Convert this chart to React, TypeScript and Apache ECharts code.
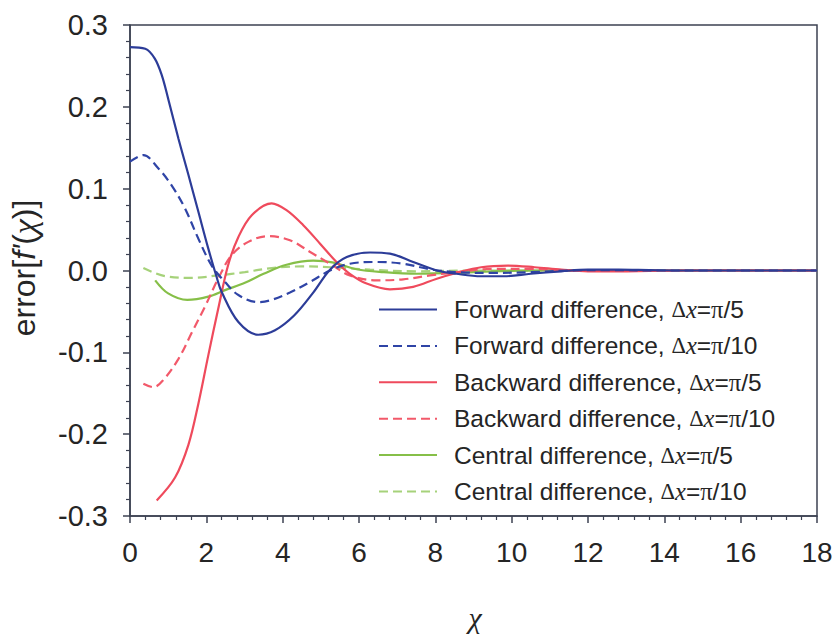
import React, { useEffect, useRef } from "react";
import * as echarts from "echarts";

// Tick labels
const xTicks = [0, 2, 4, 6, 8, 10, 12, 14, 16, 18];
const yTicks = [-0.3, -0.2, -0.1, 0.0, 0.1, 0.2, 0.3];

// Series names
const names = [
  "Forward difference, Δx=π/5",
  "Forward difference, Δx=π/10",
  "Backward difference, Δx=π/5",
  "Backward difference, Δx=π/10",
  "Central difference, Δx=π/5",
  "Central difference, Δx=π/10",
];

// Forward, Δx=π/5
const fwd5X = [0, 0.4, 0.65, 0.83, 1.0, 1.27, 1.53, 1.79, 2.05, 2.27, 2.4, 2.84, 3.36, 3.8, 4.3, 4.8, 5.24, 5.68, 6.29, 6.81, 7.42, 8.04, 8.55, 9.2, 9.8, 10.5, 11.3, 12.0, 12.8, 13.6, 14.5, 18];
const fwd5Y = [0.273, 0.271, 0.259, 0.239, 0.21, 0.161, 0.117, 0.072, 0.027, -0.008, -0.026, -0.063, -0.0785, -0.073, -0.055, -0.027, 0.001, 0.0165, 0.022, 0.0206, 0.0104, 0.0, -0.004, -0.007, -0.007, -0.004, -0.001, 0.001, 0.001, 0.0005, 0, 0];

// Forward, Δx=π/10
const fwd10X = [0, 0.35, 0.74, 1.09, 1.44, 1.79, 2.14, 2.49, 2.84, 3.36, 3.67, 4.19, 4.72, 5.24, 5.76, 6.46, 7.16, 7.86, 8.55, 9.5, 10.5, 11.5, 12.5, 14, 18];
const fwd10Y = [0.133, 0.141, 0.125, 0.104, 0.076, 0.039, 0.006, -0.014, -0.03, -0.0386, -0.0365, -0.027, -0.014, 0, 0.0083, 0.0104, 0.0083, 0.0015, -0.002, -0.003, -0.002, 0, 0.0005, 0, 0];

// Backward, Δx=π/5
const bwd5X = [0.7, 1.18, 1.53, 1.79, 2.05, 2.31, 2.57, 2.84, 3.19, 3.71, 4.1, 4.54, 4.98, 5.41, 5.76, 6.2, 6.81, 7.42, 8.04, 8.55, 9.2, 9.9, 10.6, 11.3, 12.0, 12.8, 13.6, 14.5, 18];
const bwd5Y = [-0.281, -0.253, -0.213, -0.163, -0.104, -0.047, 0.0064, 0.041, 0.0676, 0.082, 0.0737, 0.0553, 0.0328, 0.0104, -0.004, -0.016, -0.023, -0.02, -0.01, -0.003, 0.004, 0.006, 0.004, 0.001, -0.001, -0.001, -0.0005, 0, 0];

// Backward, Δx=π/10
const bwd10X = [0.35, 0.61, 0.87, 1.27, 1.63, 1.98, 2.31, 2.66, 3.1, 3.62, 4.19, 4.72, 5.24, 5.76, 6.46, 7.16, 7.86, 8.55, 9.5, 10.5, 11.5, 12.5, 14, 18];
const bwd10Y = [-0.1385, -0.1426, -0.134, -0.108, -0.075, -0.0426, -0.01, 0.0186, 0.035, 0.042, 0.037, 0.0226, 0.0083, -0.006, -0.012, -0.0108, -0.006, -0.002, 0.002, 0.002, 0, -0.0005, 0, 0];

// Central, Δx=π/5
const cen5X = [0.66, 1.0, 1.5, 2.05, 2.49, 3.01, 3.5, 4.1, 4.8, 5.3, 5.94, 6.64, 7.51, 8.55, 9.5, 11, 18];
const cen5Y = [-0.012, -0.028, -0.036, -0.032, -0.024, -0.015, -0.004, 0.007, 0.012, 0.01, 0.0015, -0.002, -0.004, -0.003, -0.001, 0, 0];

// Central, Δx=π/10
const cen10X = [0.35, 0.92, 1.63, 2.31, 3.01, 3.71, 4.5, 5.24, 6.29, 7.5, 9, 18];
const cen10Y = [0.003, -0.007, -0.009, -0.006, -0.002, 0.003, 0.005, 0.004, 0.001, -0.001, 0, 0];

const seriesX = [fwd5X, fwd10X, bwd5X, bwd10X, cen5X, cen10X];
const seriesY = [fwd5Y, fwd10Y, bwd5Y, bwd10Y, cen5Y, cen10Y];
const colors = ["#2c3c98", "#2f44a6", "#ef4a5c", "#f2596a", "#86bf48", "#a6d27a"];
const dashed = [false, true, false, true, false, true];

const SANS = "'Liberation Sans', Arial, sans-serif";
const SERIF = "'Liberation Serif', 'Times New Roman', serif";
const AXIS = "#3c4252";
const TEXT = "#252525";

export default function App() {
  const ref = useRef<HTMLDivElement>(null);
  useEffect(() => {
    if (!ref.current) return;
    const chart = echarts.init(ref.current, undefined, { renderer: "svg" });
    const series = names.map((name, i) => ({
      name,
      type: "line",
      data: seriesX[i].map((x, k) => [x, seriesY[i][k]]),
      smooth: 0.35,
      symbol: "none",
      showSymbol: false,
      lineStyle: {
        color: colors[i],
        width: 2.2,
        type: dashed[i] ? [9, 5] : "solid",
      },
      itemStyle: { color: colors[i] },
      z: 10 - i,
    }));
    chart.setOption({
      animation: false,
      backgroundColor: "#ffffff",
      grid: {
        left: 130,
        top: 25,
        right: 21,
        bottom: 126,
        show: true,
        borderColor: AXIS,
        borderWidth: 1.5,
        containLabel: false,
      },
      xAxis: {
        type: "value",
        min: xTicks[0],
        max: xTicks[xTicks.length - 1],
        interval: 2,
        axisLine: { onZero: false, lineStyle: { color: AXIS, width: 1.5 } },
        axisTick: { length: 7, lineStyle: { color: AXIS, width: 1.5 } },
        minorTick: { show: true, splitNumber: 5, length: 4, lineStyle: { color: AXIS, width: 1.2 } },
        splitLine: { show: false },
        axisLabel: { fontSize: 28, color: TEXT, fontFamily: SANS, margin: 22 },
      },
      yAxis: {
        type: "value",
        min: yTicks[0],
        max: yTicks[yTicks.length - 1],
        interval: 0.1,
        axisLine: { lineStyle: { color: AXIS, width: 1.5 } },
        axisTick: { length: 7, lineStyle: { color: AXIS, width: 1.5 } },
        minorTick: { show: true, splitNumber: 5, length: 4, lineStyle: { color: AXIS, width: 1.2 } },
        splitLine: { show: false },
        axisLabel: {
          fontSize: 29,
          color: TEXT,
          fontFamily: SANS,
          margin: 22,
          formatter: (v: number) => (Math.abs(v) < 1e-9 ? 0 : v).toFixed(1),
        },
      },
      legend: {
        show: true,
        orient: "vertical",
        left: 373,
        top: 292,
        itemWidth: 58,
        itemHeight: 14,
        itemGap: 11.4,
        data: names,
        itemStyle: { opacity: 0 },
        formatter: (name: string) => {
          const [pre, rest] = name.split(", Δx=");
          const suf = rest.replace("π", "");
          return `{t|${pre}, }{d|Δ}{x|x}{t|=}{p|π}{t|${suf}}`;
        },
        textStyle: {
          color: TEXT,
          padding: [0, 0, 0, 12],
          rich: {
            t: { fontSize: 24.5, fontFamily: SANS, color: TEXT, lineHeight: 22 },
            d: { fontSize: 22.5, fontFamily: SERIF, color: TEXT, lineHeight: 22 },
            x: { fontSize: 24.5, fontFamily: SERIF, fontStyle: "italic", color: TEXT, lineHeight: 22 },
            p: { fontSize: 24.5, fontFamily: SERIF, color: TEXT, lineHeight: 22 },
          },
        },
      },
      graphic: [
        {
          type: "text",
          x: 24,
          y: 268,
          rotation: Math.PI / 2,
          style: {
            text: "{a|error[}{f|f'}{a|(}{g|χ}{a|)]}",
            align: "center",
            verticalAlign: "middle",
            fill: TEXT,
            rich: {
              a: { fontSize: 32, fontFamily: SANS, fill: TEXT },
              f: { fontSize: 32, fontFamily: SANS, fontStyle: "italic", fill: TEXT },
              g: { fontSize: 34, fontFamily: SERIF, fontStyle: "italic", fill: TEXT },
            },
          },
        },
        {
          type: "text",
          x: 475,
          y: 617,
          style: {
            text: "χ",
            align: "center",
            verticalAlign: "middle",
            fontSize: 30,
            fontFamily: SERIF,
            fontStyle: "italic",
            fill: TEXT,
          },
        },
      ],
      series,
    });
    return () => chart.dispose();
  }, []);
  return <div ref={ref} style={{ width: 838, height: 642, position: "absolute", left: 0, top: 0 }} />;
}
